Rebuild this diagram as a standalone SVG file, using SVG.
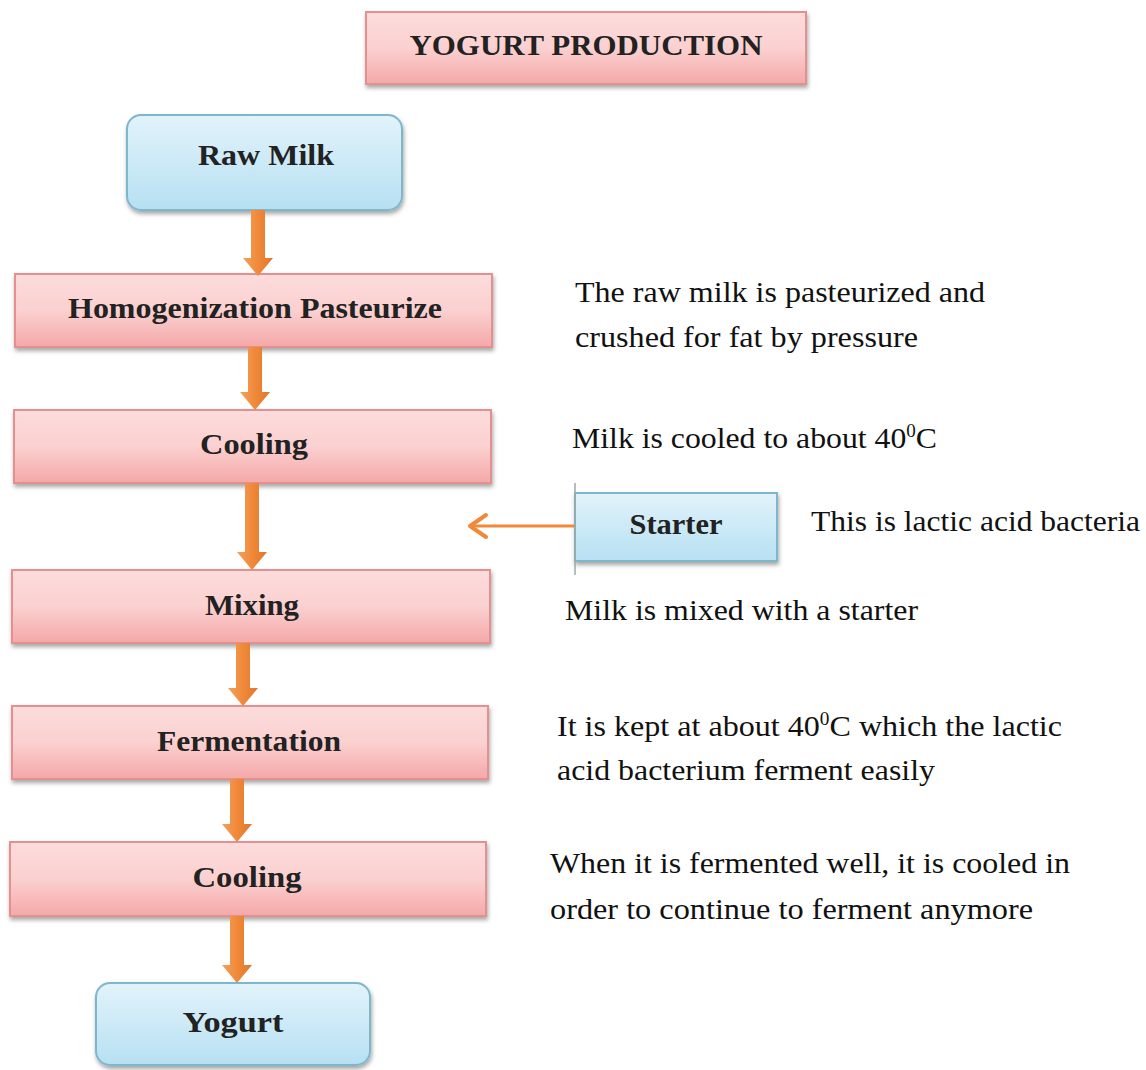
<svg xmlns="http://www.w3.org/2000/svg" width="1146" height="1070" viewBox="0 0 1146 1070">
<defs>
<linearGradient id="pink" x1="0" y1="0" x2="0" y2="1">
<stop offset="0" stop-color="#fcdcdc"/><stop offset="0.5" stop-color="#fbd0d0"/><stop offset="1" stop-color="#f5a8a8"/>
</linearGradient>
<linearGradient id="blue" x1="0" y1="0" x2="0" y2="1">
<stop offset="0" stop-color="#e2f3fb"/><stop offset="1" stop-color="#b6e0f2"/>
</linearGradient>
<linearGradient id="org" x1="0" y1="0" x2="1" y2="0">
<stop offset="0" stop-color="#f2a25c"/><stop offset="0.5" stop-color="#f0893a"/><stop offset="1" stop-color="#e0762a"/>
</linearGradient>
<filter id="sh" x="-5%" y="-10%" width="110%" height="130%">
<feDropShadow dx="1" dy="3" stdDeviation="2" flood-color="#000" flood-opacity="0.35"/>
</filter>
</defs>
<style>
.pk{fill:url(#pink);stroke:#e58f8f;stroke-width:2;filter:url(#sh)}
.bl{fill:url(#blue);stroke:#7eb6cc;stroke-width:2;filter:url(#sh)}
.lb{font-family:"Liberation Serif",serif;font-weight:bold;font-size:29px;fill:#222;text-anchor:middle}
.tx{font-family:"Liberation Serif",serif;font-size:30px;fill:#111}
.ar{fill:url(#org)}
</style>
<rect width="1146" height="1070" fill="#fff"/>
<g id="title"><rect class="pk" x="366" y="12" width="440" height="72"/><text class="lb" x="586" y="55" font-size="27" textLength="353" lengthAdjust="spacingAndGlyphs">YOGURT PRODUCTION</text></g>
<g id="raw-milk"><rect class="bl" x="127" y="115" width="275" height="95" rx="14"/><text class="lb" x="266" y="165" textLength="136" lengthAdjust="spacingAndGlyphs">Raw Milk</text></g>
<g id="homogenization"><rect class="pk" x="15" y="274" width="477" height="73"/><text class="lb" x="255" y="318" textLength="374" lengthAdjust="spacingAndGlyphs">Homogenization Pasteurize</text></g>
<g id="cooling1"><rect class="pk" x="14" y="410" width="477" height="73"/><text class="lb" x="254" y="454" textLength="108" lengthAdjust="spacingAndGlyphs">Cooling</text></g>
<g id="starter"><rect class="bl" x="575" y="493" width="202" height="68"/><line x1="575" y1="483" x2="575" y2="575" stroke="#9aa" stroke-width="1.5"/><text class="lb" x="676" y="534" font-size="27" textLength="93" lengthAdjust="spacingAndGlyphs">Starter</text></g>
<g id="mixing"><rect class="pk" x="12" y="570" width="478" height="73"/><text class="lb" x="252" y="615" textLength="94" lengthAdjust="spacingAndGlyphs">Mixing</text></g>
<g id="fermentation"><rect class="pk" x="12" y="706" width="476" height="73"/><text class="lb" x="249" y="751" textLength="184" lengthAdjust="spacingAndGlyphs">Fermentation</text></g>
<g id="cooling2"><rect class="pk" x="10" y="842" width="476" height="74"/><text class="lb" x="247" y="887" textLength="109" lengthAdjust="spacingAndGlyphs">Cooling</text></g>
<g id="yogurt"><rect class="bl" x="96" y="983" width="274" height="82" rx="14"/><text class="lb" x="233" y="1032" textLength="101" lengthAdjust="spacingAndGlyphs">Yogurt</text></g>
<g id="connectors">
<path class="ar" d="M251,210 H265 V258 H273 L258,276 L243,258 H251 Z"/>
<path class="ar" d="M248,347 H262 V392 H270 L255,410 L240,392 H248 Z"/>
<path class="ar" d="M245,483 H259 V552 H267 L252,570 L237,552 H245 Z"/>
<path class="ar" d="M236,643 H250 V688 H258 L243,706 L228,688 H236 Z"/>
<path class="ar" d="M230,779 H244 V824 H252 L237,842 L222,824 H230 Z"/>
<path class="ar" d="M230,916 H244 V965 H252 L237,983 L222,965 H230 Z"/>
<line x1="574" y1="526" x2="472" y2="526" stroke="#f0893a" stroke-width="3"/>
<polyline points="486,515 470,526 486,537" fill="none" stroke="#f0893a" stroke-width="4" stroke-linecap="round" stroke-linejoin="round"/>
</g>
<g id="notes">
<text class="tx" x="575" y="302" textLength="410" lengthAdjust="spacingAndGlyphs">The raw milk is pasteurized and</text>
<text class="tx" x="575" y="347" textLength="343" lengthAdjust="spacingAndGlyphs">crushed for fat by pressure</text>
<text class="tx" x="572" y="448" textLength="365" lengthAdjust="spacingAndGlyphs">Milk is cooled to about 40<tspan font-size="18" dy="-11">0</tspan><tspan dy="11">C</tspan></text>
<text class="tx" x="811" y="531" textLength="329" lengthAdjust="spacingAndGlyphs">This is lactic acid bacteria</text>
<text class="tx" x="565" y="620" textLength="353" lengthAdjust="spacingAndGlyphs">Milk is mixed with a starter</text>
<text class="tx" x="557" y="736" textLength="505" lengthAdjust="spacingAndGlyphs">It is kept at about 40<tspan font-size="18" dy="-11">0</tspan><tspan dy="11">C which the lactic</tspan></text>
<text class="tx" x="557" y="780" textLength="378" lengthAdjust="spacingAndGlyphs">acid bacterium ferment easily</text>
<text class="tx" x="550" y="873" textLength="520" lengthAdjust="spacingAndGlyphs">When it is fermented well, it is cooled in</text>
<text class="tx" x="550" y="919" textLength="483" lengthAdjust="spacingAndGlyphs">order to continue to ferment anymore</text>
</g>
</svg>
